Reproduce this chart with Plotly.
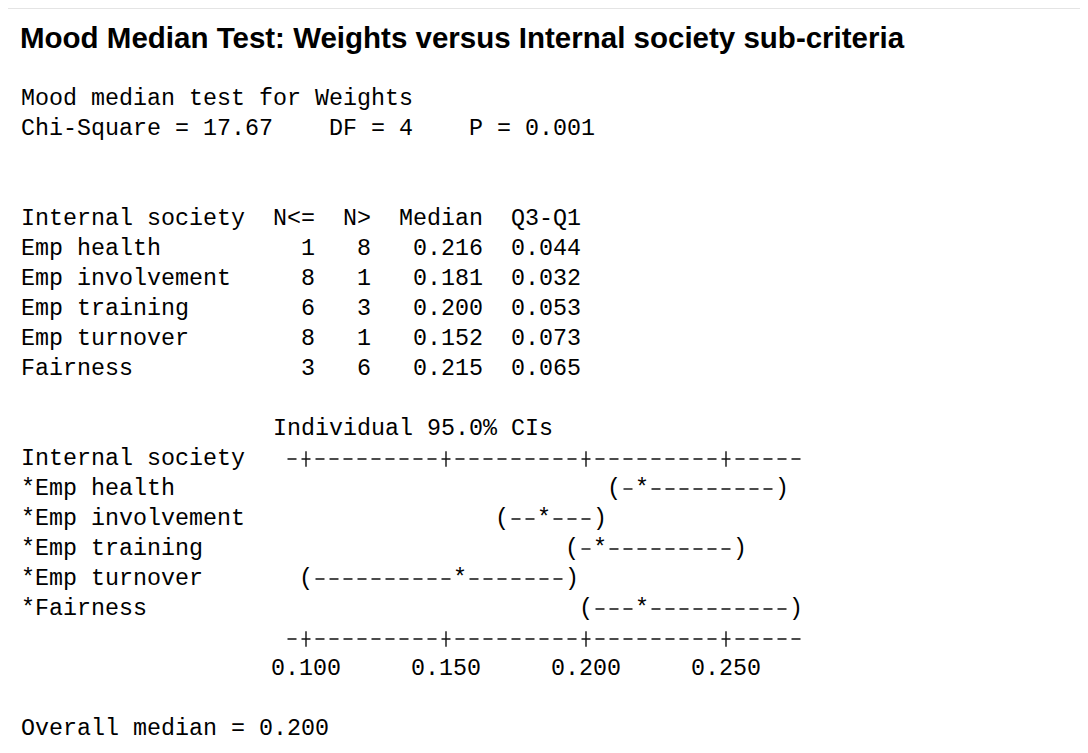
import plotly.graph_objects as go

# ---------------- data ----------------
title_text = "Mood Median Test: Weights versus Internal society sub-criteria"
response_name = "Weights"
factor_name = "Internal society"
chi_square = 17.67
dof = 4
p_value = 0.001

categories = ["Emp health", "Emp involvement", "Emp training", "Emp turnover", "Fairness"]
n_le = [1, 8, 6, 8, 3]
n_gt = [8, 1, 3, 1, 6]
medians = [0.216, 0.181, 0.200, 0.152, 0.215]
q3_q1 = [0.044, 0.032, 0.053, 0.073, 0.065]

# character-plot confidence intervals as drawn in the picture
ci_lower = [0.210, 0.170, 0.195, 0.100, 0.200]
ci_center = [0.220, 0.185, 0.205, 0.155, 0.220]
ci_upper = [0.270, 0.205, 0.255, 0.195, 0.275]

tick_values = [0.100, 0.150, 0.200, 0.250]
tick_labels = ["0.100", "0.150", "0.200", "0.250"]
axis_span = [0.095, 0.275]
overall_median = 0.200
ci_level = 95.0

# ---------------- layout constants ----------------
W, H = 1088, 753
LEFT = 11          # px, left edge of text column 0
PITCH = 14         # px per monospace character
LINE = 30          # px per text line
TOP = 1            # px, centre of line 0
FS = PITCH / 0.6   # font size giving the pitch
MONO = "Liberation Mono"
INK = "#000000"
UNIT = 0.005       # axis units per character column
ORIGIN_COL = 20    # column of the first tick
PX_PER_UNIT = PITCH / UNIT
x0_px = LEFT + (ORIGIN_COL + 0.5) * PITCH
x_range = [tick_values[0] - x0_px / PX_PER_UNIT, tick_values[0] + (W - x0_px) / PX_PER_UNIT]
y_range = [(H - TOP) / LINE, -TOP / LINE]

NB = "\u00a0"


def mono_line(s):
    return s.replace(" ", NB)


lines = {}
lines[3] = f"Mood median test for {response_name}"
lines[4] = f"Chi-Square = {chi_square:.2f}    DF = {dof}    P = {p_value:.3f}"
w = max(len(factor_name), max(len(c) for c in categories))
lines[7] = f"{factor_name:<{w}}  N<=  N>  Median  Q3-Q1"
for i, c in enumerate(categories):
    lines[8 + i] = f"{c:<{w}}  {n_le[i]:>3}  {n_gt[i]:>2}  {medians[i]:>6.3f}  {q3_q1[i]:>5.3f}"
lines[14] = " " * 18 + f"Individual {ci_level:.1f}% CIs"
lines[15] = factor_name
ci_rows = []
for i, c in enumerate(categories):
    lines[16 + i] = "*" + c
    ci_rows.append(16 + i)
axis_rows = [15, 16 + len(categories)]
label_row = axis_rows[1] + 1
lines[label_row + 2] = f"Overall median = {overall_median:.3f}"

fig = go.Figure()

# dashes between the characters of each interval
half = UNIT / 2
edge = 2.5 / PX_PER_UNIT
dx, dy = [], []
for i in range(len(categories)):
    for a, b in ((ci_lower[i], ci_center[i]), (ci_center[i], ci_upper[i])):
        if b - a > UNIT * 1.5:
            dx += [a + half + edge, b - half - edge, None]
            dy += [ci_rows[i], ci_rows[i], None]
fig.add_trace(go.Scatter(x=dx, y=dy, mode="lines", line=dict(color="#111111", width=1.4, dash="9px,5px"),
                         hoverinfo="skip", showlegend=False))

# axis lines  -+---------+---------+---------+-----
ax, ay = [], []
for r in axis_rows:
    ax += [axis_span[0] - half + edge, axis_span[1] + half - edge, None]
    ay += [r, r, None]
fig.add_trace(go.Scatter(x=ax, y=ay, mode="lines", line=dict(color="#111111", width=1.4, dash="9px,5px"),
                         hoverinfo="skip", showlegend=False))
for r in axis_rows:
    fig.add_trace(go.Scatter(x=tick_values, y=[r] * len(tick_values), mode="markers",
                             marker=dict(symbol="line-ns", size=11, line=dict(color="#111111", width=1.4)),
                             hoverinfo="skip", showlegend=False))

# parentheses and medians
for xs, ch in ((ci_lower, "("), (ci_center, "*"), (ci_upper, ")")):
    fig.add_trace(go.Scatter(x=xs, y=ci_rows, mode="text", text=[ch] * len(xs),
                             textposition="middle center",
                             textfont=dict(family=MONO, size=FS, color=INK),
                             hoverinfo="skip", showlegend=False))

for n, s in lines.items():
    fig.add_annotation(x=LEFT / W, xref="paper", xanchor="left", y=n, yref="y", yanchor="middle",
                       text=mono_line(s), showarrow=False,
                       font=dict(family=MONO, size=FS, color=INK))

label_px = TOP + label_row * LINE
fig.update_layout(
    width=W, height=H,
    margin=dict(l=0, r=0, t=0, b=0),
    paper_bgcolor="white", plot_bgcolor="white",
    title=dict(text=title_text, x=12 / W, xanchor="left", xref="paper",
               y=1 - 30 / H, yanchor="middle", yref="paper",
               font=dict(family="Liberation Sans", size=29.5, color=INK, weight="bold")),
    xaxis=dict(range=x_range, showgrid=False, zeroline=False, showline=False, ticks="",
               tickvals=tick_values, ticktext=tick_labels,
               tickfont=dict(family=MONO, size=FS, color=INK),
               anchor="free", position=(H - (label_px - 18)) / H, fixedrange=True),
    yaxis=dict(range=y_range, visible=False, fixedrange=True),
    shapes=[
        dict(type="line", xref="paper", yref="paper", x0=0, x1=1, y0=1 - 0.5 / H, y1=1 - 0.5 / H,
             line=dict(color="#e4e4e4", width=1)),
        dict(type="line", xref="paper", yref="paper", x0=0, x1=1, y0=1 / H, y1=1 / H,
             line=dict(color="#3a3a3a", width=2)),
    ],
)

fig.write_html("out.html")
